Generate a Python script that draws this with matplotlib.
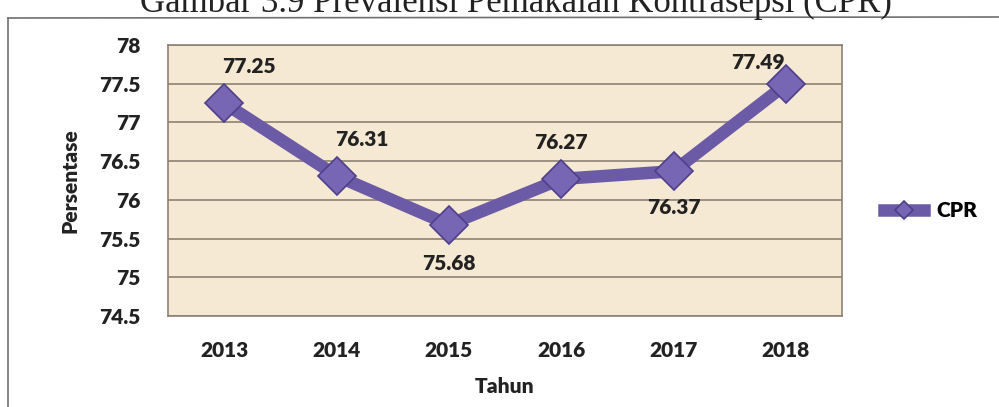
import matplotlib.pyplot as plt
from matplotlib.lines import Line2D

# data
tahun = ['2013', '2014', '2015', '2016', '2017', '2018']
cpr = [77.25, 76.31, 75.68, 76.27, 76.37, 77.49]
y_ticks = [74.5, 75, 75.5, 76, 76.5, 77, 77.5, 78]
# posisi label (offset dalam point)
label_offsets = [(18, 26), (18, 26), (0, -28), (0, 26), (0, -26), (-20, 16)]

plt.rcParams['font.family'] = ['Lato', 'DejaVu Sans']
BERAT = 'heavy'

fig = plt.figure(figsize=(9.99, 4.07), dpi=100)
W, H = 999, 407

# bingkai halaman hasil scan
fig.add_artist(Line2D([8 / W, 1], [1 - 18 / H, 1 - 17 / H], transform=fig.transFigure,
                      color='#6f6f6f', lw=1.2))
fig.add_artist(Line2D([8 / W, 8 / W], [1 - 18 / H, 0], transform=fig.transFigure,
                      color='#6f6f6f', lw=1.2))

# judul terpotong di atas
fig.text(140 / W, 1 - 12 / H, 'Gambar 3.9 Prevalensi Pemakaian Kontrasepsi (CPR)',
         family='Liberation Serif', fontsize=25, color='#222222', va='baseline')

ax = fig.add_axes([168 / W, 1 - 316 / H, 674 / W, 271 / H])
ax.set_facecolor('#f6e9d3')
x = range(len(tahun))
ax.plot(x, cpr, color='#6b5aa6', lw=9, marker='D', ms=19,
        markerfacecolor='#7766b4', markeredgecolor='#4f3f8a', markeredgewidth=1.2,
        label='CPR', zorder=3)

for i, v in enumerate(cpr):
    ax.annotate(f'{v:.2f}', (i, v), xytext=label_offsets[i], textcoords='offset points',
                ha='center', va='center', fontsize=15, fontweight=BERAT, color='#222222')

ax.set_xlim(-0.5, len(tahun) - 0.5)
ax.set_ylim(74.5, 78)
ax.set_yticks(y_ticks)
ax.set_yticklabels([f'{t:g}' for t in y_ticks])
ax.set_xticks(list(x))
ax.set_xticklabels(tahun)
ax.tick_params(length=0, labelsize=15, colors='#222222')
ax.tick_params(axis='x', pad=18)
ax.tick_params(axis='y', pad=20)
for lab in ax.get_xticklabels() + ax.get_yticklabels():
    lab.set_fontweight(BERAT)
ax.grid(axis='y', color='#8d8272', lw=1.2)
ax.set_axisbelow(True)
for s in ax.spines.values():
    s.set_color('#8d8272')
    s.set_linewidth(1.2)

ax.set_xlabel('Tahun', fontsize=15, fontweight=BERAT, color='#222222', labelpad=12)
ax.set_ylabel('Persentase', fontsize=15, fontweight=BERAT, color='#222222', labelpad=14)

leg = ax.legend(loc='center left', bbox_to_anchor=(1.035, 0.39), frameon=False,
                prop={'size': 15, 'weight': BERAT}, handlelength=1.9, handletextpad=0.6,
                markerscale=0.5)

fig.savefig('out.png', dpi=100)
